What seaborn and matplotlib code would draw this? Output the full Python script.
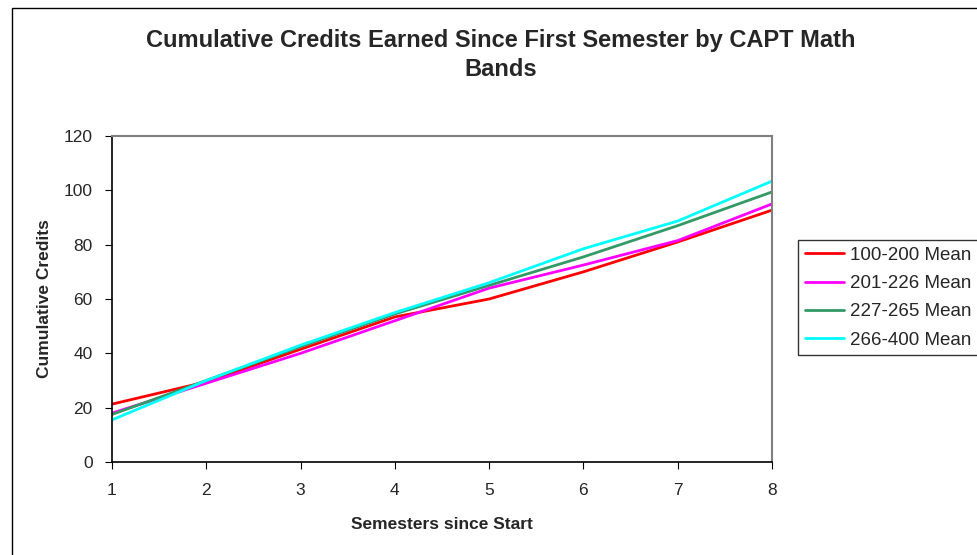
import matplotlib
matplotlib.use("Agg")
import matplotlib.pyplot as plt
import seaborn as sns
import pandas as pd
from matplotlib.patches import Rectangle

semesters = [1, 2, 3, 4, 5, 6, 7, 8]
band_labels = ["100-200 Mean", "201-226 Mean", "227-265 Mean", "266-400 Mean"]
band_100_200 = [21.3, 29.5, 41.5, 53.4, 60.0, 70.0, 81.0, 92.7]
band_201_226 = [18.0, 29.0, 40.0, 52.0, 64.0, 72.5, 81.5, 95.0]
band_227_265 = [17.5, 30.0, 42.5, 54.5, 65.0, 75.5, 87.0, 99.4]
band_266_400 = [15.5, 30.0, 43.0, 55.0, 66.0, 78.5, 88.7, 103.4]
colors = ["#ff0000", "#ff00ff", "#339966", "#00ffff"]

rows = []
for label, vals in zip(band_labels, [band_100_200, band_201_226, band_227_265, band_266_400]):
    for s, v in zip(semesters, vals):
        rows.append({"Semester": s, "Credits": v, "Band": label})
df = pd.DataFrame(rows)

sns.set_style("white")
plt.rcParams["font.family"] = ["Liberation Sans", "DejaVu Sans"]

fig = plt.figure(figsize=(9.77, 5.55), dpi=100)
ax = fig.add_axes([112 / 977, 1 - 462 / 555, 660 / 977, 326 / 555])

sns.lineplot(data=df, x="Semester", y="Credits", hue="Band", hue_order=band_labels,
             palette=colors, linewidth=2, ax=ax, legend=False)

ax.set_xlim(1, 8)
ax.set_ylim(0, 120)
ax.set_xticks(semesters)
ax.set_yticks(range(0, 121, 20))
ax.tick_params(axis="both", labelsize=12.5, length=5, direction="out", color="black",
               bottom=True, left=True)
ax.tick_params(axis="x", pad=10)
ax.tick_params(axis="y", pad=9)
for side in ["top", "right"]:
    ax.spines[side].set_color("#808080")
    ax.spines[side].set_linewidth(1.5)
for side in ["left", "bottom"]:
    ax.spines[side].set_color("black")
    ax.spines[side].set_linewidth(1.2)

ax.set_xlabel("Semesters since Start", fontsize=12.5, fontweight="bold", labelpad=14)
ax.set_ylabel("Cumulative Credits", fontsize=12.5, fontweight="bold", labelpad=8)

fig.text(501 / 977, 1 - 55 / 555,
         "Cumulative Credits Earned Since First Semester by CAPT Math\nBands",
         ha="center", va="center", fontsize=17, fontweight="bold", linespacing=1.35)

# legend built from the same colours
handles = [plt.Line2D([], [], color=c, linewidth=2) for c in colors]
leg = fig.legend(handles, band_labels, loc="upper left",
                 bbox_to_anchor=(798 / 977, 1 - 240 / 555), fontsize=13.5,
                 frameon=True, fancybox=False, handlelength=2.1, handletextpad=0.3,
                 borderpad=0.35, labelspacing=0.6, borderaxespad=0)
leg.get_frame().set_edgecolor("black")
leg.get_frame().set_linewidth(1)

# outer chart border
fig.patches.append(Rectangle((12 / 977, -0.05), 1.1, 1 - 8 / 555 + 0.05,
                             transform=fig.transFigure, fill=False,
                             edgecolor="black", linewidth=1, clip_on=False))

fig.savefig("out.png", dpi=100)
